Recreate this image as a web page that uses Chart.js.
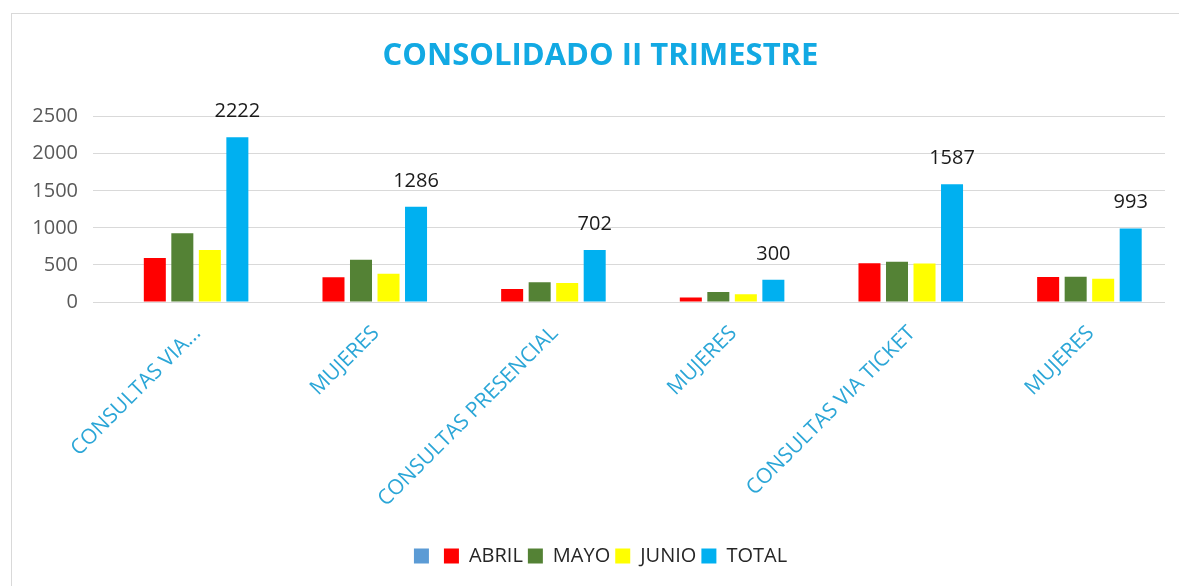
<!DOCTYPE html>
<html>
<head>
<meta charset="utf-8">
<script src="https://cdn.jsdelivr.net/npm/chart.js@4.4.1/dist/chart.umd.min.js"></script>
<style>
  html, body { margin: 0; padding: 0; background: #ffffff; overflow: hidden; }
  #frame { position: absolute; left: 11px; top: 13px; width: 1400px; height: 800px; border: 1px solid #d9d9d9; }
  #c { position: absolute; left: 0; top: 0; }
</style>
</head>
<body>
<div id="frame"></div>
<canvas id="c" width="1179" height="586"></canvas>
<script>
const categories = ["CONSULTAS VIA...", "MUJERES", "CONSULTAS PRESENCIAL", "MUJERES", "CONSULTAS VIA TICKET", "MUJERES"];
const serieVacia = [null, null, null, null, null, null];
const abril = [595, 333, 176, 62, 524, 337];
const mayo  = [927, 571, 268, 134, 543, 341];
const junio = [700, 382, 258, 104, 520, 315];
const total = [2222, 1286, 702, 300, 1587, 993];
const yTicks = [0, 500, 1000, 1500, 2000, 2500];

const FONT = "'Open Sans', 'DejaVu Sans', sans-serif";

const totalLabels = {
  id: 'totalLabels',
  afterDatasetsDraw(chart) {
    const ctx = chart.ctx;
    const meta = chart.getDatasetMeta(4);
    ctx.save();
    ctx.font = "20px " + FONT;
    ctx.fillStyle = '#1a1a1a';
    ctx.textAlign = 'center';
    ctx.textBaseline = 'alphabetic';
    meta.data.forEach((bar, i) => {
      ctx.fillText(String(total[i]), bar.x, bar.y - 20);
    });
    ctx.restore();
  }
};

new Chart(document.getElementById('c'), {
  type: 'bar',
  data: {
    labels: categories,
    datasets: [
      { label: '', data: serieVacia, backgroundColor: '#5B9BD5' },
      { label: 'ABRIL', data: abril, backgroundColor: '#FF0000' },
      { label: 'MAYO', data: mayo, backgroundColor: '#548235' },
      { label: 'JUNIO', data: junio, backgroundColor: '#FFFF00' },
      { label: 'TOTAL', data: total, backgroundColor: '#00B0F0' }
    ]
  },
  options: {
    responsive: false,
    animation: false,
    devicePixelRatio: 1,
    layout: { padding: { left: 22, right: 0, top: 0, bottom: 10 } },
    datasets: { bar: { categoryPercentage: 0.77, barPercentage: 0.8 } },
    plugins: {
      tooltip: { enabled: false },
      title: {
        display: true,
        text: 'CONSOLIDADO II TRIMESTRE',
        color: '#12A9E3',
        font: { family: FONT, size: 31, weight: 'bold' },
        padding: { top: 38, bottom: 41.5 }
      },
      legend: {
        position: 'bottom',
        labels: {
          color: '#262626',
          font: { family: FONT, size: 20 },
          boxWidth: 15,
          boxHeight: 15,
          padding: 5
        }
      }
    },
    scales: {
      x: {
        grid: { display: false },
        border: { display: false },
        ticks: {
          color: '#2BA6D7',
          font: { family: FONT, size: 21 },
          minRotation: 45,
          maxRotation: 45,
          padding: 11,
          labelOffset: 15
        },
        afterFit(s) { s.height = 239; }
      },
      y: {
        min: 0,
        max: 2500,
        afterBuildTicks(s) { s.ticks = yTicks.map(v => ({ value: v })); },
        grid: { color: '#D9D9D9', lineWidth: 1, drawTicks: false },
        border: { display: false },
        ticks: {
          color: '#595959',
          font: { family: FONT, size: 20 },
          padding: 15,
          callback: (v) => String(v)
        },
        afterFit(s) { s.width = 71; }
      },
      y2: {
        position: 'right',
        display: true,
        grid: { display: false },
        border: { display: false },
        ticks: { display: false },
        afterFit(s) { s.width = 14; }
      }
    }
  },
  plugins: [totalLabels]
});
</script>
</body>
</html>
